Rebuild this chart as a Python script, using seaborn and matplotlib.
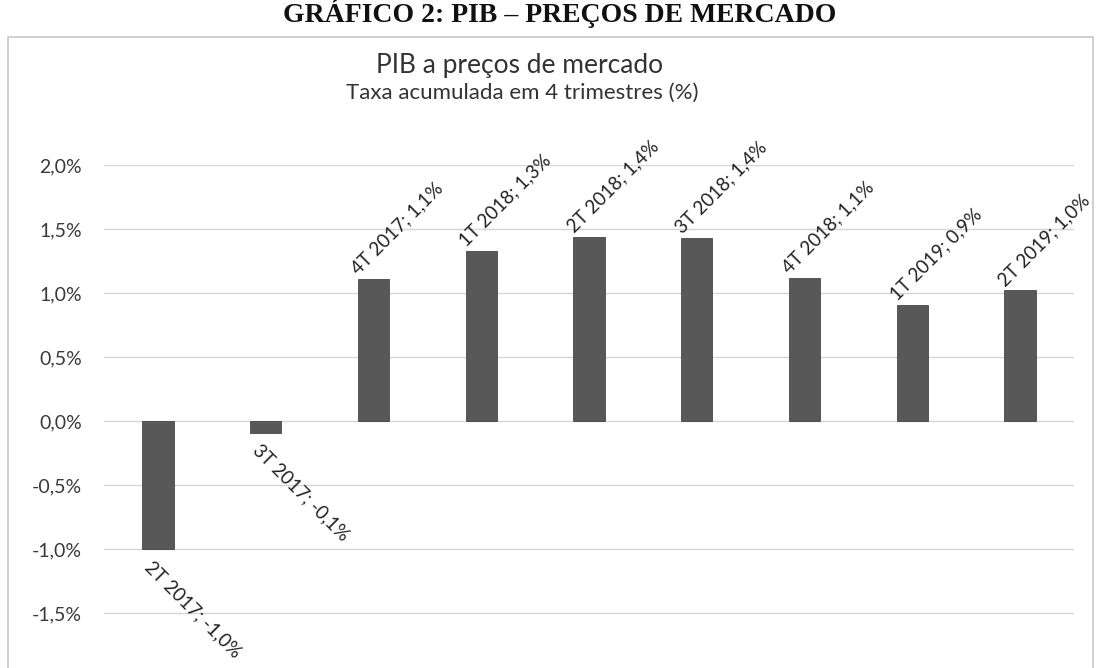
import matplotlib
matplotlib.use("Agg")
import matplotlib.pyplot as plt
from matplotlib.patches import Rectangle
import seaborn as sns
import pandas as pd

# quarters and cumulative 4-quarter GDP growth (%)
quarters = ["2T 2017", "3T 2017", "4T 2017", "1T 2018", "2T 2018",
            "3T 2018", "4T 2018", "1T 2019", "2T 2019"]
values = [-1.00, -0.09, 1.11, 1.33, 1.44, 1.43, 1.12, 0.91, 1.02]
yticks = [-1.5, -1.0, -0.5, 0.0, 0.5, 1.0, 1.5, 2.0]

header = "GRÁFICO 2: PIB – PREÇOS DE MERCADO"
title = "PIB a preços de mercado"
subtitle = "Taxa acumulada em 4 trimestres (%)"


def pct(v):
  return f"{v:.1f}%".replace(".", ",")


df = pd.DataFrame({"trimestre": quarters, "taxa": values})

sns.set_theme(style="white")
plt.rcParams["font.family"] = ["Lato", "DejaVu Sans"]

fig = plt.figure(figsize=(10.99, 6.68), dpi=100)
ax = fig.add_axes([104 / 1099, -9 / 668, 970 / 1099, 512 / 668])

sns.barplot(data=df, x="trimestre", y="taxa", color="#585858",
            width=0.29, saturation=1, edgecolor="#474747", linewidth=0.6,
            ax=ax, zorder=3)

ax.set_ylim(-2.0, 2.0)
ax.set_yticks(yticks)
ax.set_yticklabels([pct(t) for t in yticks], fontsize=14, color="#3a3a3a")
ax.tick_params(axis="y", length=0, pad=16)
ax.set_xticks([])
ax.set_xlabel("")
ax.set_ylabel("")
ax.grid(axis="y", color="#d6d6d6", linewidth=1, zorder=0)
for s in ax.spines.values():
  s.set_visible(False)

# data labels, rotated like the Excel original
for i, (q, v) in enumerate(zip(quarters, values)):
  txt = f"{q}; {pct(v)}"
  if v >= 0:
    ax.text(i - 0.12, v + 0.01, txt, rotation=45, rotation_mode="anchor",
            ha="left", va="bottom", fontsize=13.5, color="#222222")
  else:
    ax.text(i - 0.04, v - 0.07, txt, rotation=-45, rotation_mode="anchor",
            ha="left", va="top", fontsize=13.5, color="#222222")

# chart frame
fig.patches.append(Rectangle((8 / 1099, -0.05), 1085 / 1099, (668 - 37) / 668 + 0.05,
                             transform=fig.transFigure, fill=False,
                             edgecolor="#c8c8c8", linewidth=1.2))

fig.text(520 / 1099, (668 - 65) / 668, title, ha="center", va="center",
         fontsize=19, color="#333333")
fig.text(522 / 1099, (668 - 93) / 668, subtitle, ha="center", va="center",
         fontsize=16, color="#333333")
fig.text(560 / 1099, (668 - 22) / 668, header, ha="center", va="baseline",
         fontsize=20, fontweight="bold", family="Liberation Serif", color="#111111")

plt.savefig("out.png", dpi=100)
